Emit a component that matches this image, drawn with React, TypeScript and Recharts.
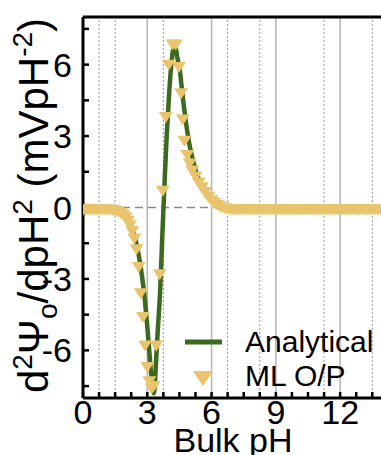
import React from 'react';
import {
  ComposedChart,
  Line,
  Scatter,
  XAxis,
  YAxis,
  ReferenceLine,
  Legend,
} from 'recharts';

const FONT = '"Liberation Sans", Arial, Helvetica, sans-serif';
const GREEN = '#3b6a1f';
const GOLD = '#e9c46c';

// analytical curve (pH, d2psi/dpH2)
const anaPh = [
  0, 0.5, 1.0, 1.4, 1.6, 1.8, 2.0, 2.2, 2.4, 2.5,
  2.6, 2.7, 2.8, 2.9, 3.0, 3.1, 3.2, 3.3, 3.35, 3.4,
  3.5, 3.6, 3.7, 3.8, 3.9, 4.0, 4.1, 4.2, 4.27, 4.35,
  4.4, 4.5, 4.6, 4.7, 4.8, 4.9, 5.0, 5.1, 5.2, 5.3,
  5.4, 5.5, 5.6, 5.7, 5.8, 5.9, 6.0, 6.2, 6.4, 6.6,
  6.8, 7.0, 7.5, 8, 10, 12, 14,
];
const anaVal = [
  0, 0, -0.02, -0.06, -0.12, -0.22, -0.4, -0.7, -1.2, -1.55,
  -2.0, -2.55, -3.2, -4.0, -5.0, -6.1, -7.2, -7.8, -7.5, -6.6,
  -5.0, -3.5, -1.2, 0.9, 2.9, 4.5, 5.8, 6.6, 6.8, 6.6,
  6.3, 5.9, 5.1, 4.3, 3.6, 3.0, 2.5, 2.1, 1.75, 1.45,
  1.2, 0.95, 0.75, 0.6, 0.47, 0.38, 0.3, 0.18, 0.1, 0.06,
  0.03, 0.02, 0.01, 0, 0, 0, 0,
];

// ML output points
const mlPh = [
  0, 0.125, 0.25, 0.375, 0.5, 0.625, 0.75, 0.875, 1, 1.125,
  1.25, 1.375, 1.5, 1.625, 1.75, 1.875, 2.0, 2.1, 2.2, 2.3,
  2.4, 2.5, 2.6, 2.7, 2.8, 2.9, 3.0, 3.1, 3.2, 3.3,
  3.42, 3.58, 3.72, 3.86, 4.0, 4.18, 4.33, 4.48, 4.58, 4.66,
  4.74, 4.86, 4.98, 5.1, 5.25, 5.4, 5.55, 5.7, 5.85, 6.0,
  6.125, 6.25, 6.375, 6.5, 6.625, 6.75, 6.875, 7, 7.125, 7.25,
  7.375, 7.5, 7.625, 7.75, 7.875, 8, 8.125, 8.25, 8.375, 8.5,
  8.625, 8.75, 8.875, 9, 9.125, 9.25, 9.375, 9.5, 9.625, 9.75,
  9.875, 10, 10.125, 10.25, 10.375, 10.5, 10.625, 10.75, 10.875, 11,
  11.125, 11.25, 11.375, 11.5, 11.625, 11.75, 11.875, 12, 12.125, 12.25,
  12.375, 12.5, 12.625, 12.75, 12.875, 13, 13.125, 13.25, 13.375, 13.5,
  13.625, 13.75, 13.875, 14,
];
const mlVal = [
  -0.08, -0.08, -0.08, -0.08, -0.08, -0.08, -0.08, -0.08, -0.08, -0.08,
  -0.09, -0.1, -0.13, -0.17, -0.23, -0.31, -0.42, -0.56, -0.75, -1.0,
  -1.3, -1.75, -2.5, -3.6, -4.6, -5.8, -6.7, -7.3, -7.6, -7.5,
  -5.8, -2.8, 0.7, 3.8, 6.0, 6.85, 6.85, 5.9, 4.8, 3.7,
  2.8, 2.2, 1.85, 1.55, 1.3, 1.05, 0.85, 0.65, 0.45, 0.3,
  0.2, 0.12, 0.05, 0.0, -0.03, -0.06, -0.08, -0.08, -0.08, -0.08,
  -0.08, -0.08, -0.08, -0.08, -0.08, -0.08, -0.08, -0.08, -0.08, -0.08,
  -0.08, -0.08, -0.08, -0.08, -0.08, -0.08, -0.08, -0.08, -0.08, -0.08,
  -0.08, -0.08, -0.08, -0.08, -0.08, -0.08, -0.08, -0.08, -0.08, -0.08,
  -0.08, -0.08, -0.08, -0.08, -0.08, -0.08, -0.08, -0.08, -0.08, -0.08,
  -0.08, -0.08, -0.08, -0.08, -0.08, -0.08, -0.08, -0.08, -0.08, -0.08,
  -0.08, -0.08, -0.08, -0.08,
];

const xTicks = [0, 0.75, 1.5, 2.25, 3, 3.75, 4.5, 5.25, 6, 6.75, 7.5, 8.25, 9, 9.75, 10.5, 11.25, 12, 12.75, 13.5];
const yTicks = [-7.5, -6, -4.5, -3, -1.5, 0, 1.5, 3, 4.5, 6, 7.5];
const gridSolid = [3, 6, 9, 12];
const gridDotted = [0.75, 1.5, 3.75, 6.75, 8.25, 11.25, 13.5];

const majorOnly = (v: number) => (v % 3 === 0 ? String(v) : '');

function DownTriangle(props: any) {
  const { cx, cy } = props;
  if (cx == null || cy == null) return null;
  return (
    <polygon
      points={`${cx - 7},${cy - 5} ${cx + 7},${cy - 5} ${cx},${cy + 6}`}
      fill={GOLD}
    />
  );
}

function YTitle(props: any) {
  const vb = props.viewBox || { x: 0, y: 17, width: 83, height: 381 };
  const cx = vb.x + 48;
  const cy = vb.y + vb.height / 2 - 2;
  return (
    <text
      x={cx}
      y={cy}
      transform={`rotate(-90, ${cx}, ${cy})`}
      textAnchor="middle"
      fontFamily={FONT}
      fontSize={42}
      fill="#000"
    >
      <tspan>d</tspan>
      <tspan fontSize={28} dy={-16}>2</tspan>
      <tspan dy={16}>Ψ</tspan>
      <tspan fontSize={28} dy={9}>o</tspan>
      <tspan dy={-9}>/dpH</tspan>
      <tspan fontSize={28} dy={-16}>2</tspan>
      <tspan dy={16}>{'\u00a0(mVpH'}</tspan>
      <tspan fontSize={28} dy={-16}>-2</tspan>
      <tspan dy={16}>)</tspan>
    </text>
  );
}

function XTitle(props: any) {
  const vb = props.viewBox || { x: 83, y: 398, width: 300, height: 57 };
  return (
    <text
      x={vb.x + vb.width / 2}
      y={vb.y + 54}
      textAnchor="middle"
      fontFamily={FONT}
      fontSize={34}
      fill="#000"
    >
      Bulk pH
    </text>
  );
}

function LegendBox() {
  return (
    <div style={{ fontFamily: FONT, fontSize: 30, color: '#000', lineHeight: '34px', textAlign: 'left' }}>
      <div style={{ display: 'flex', alignItems: 'center', height: 34 }}>
        <svg width={65} height={34}>
          <line x1={5} x2={42} y1={17} y2={17} stroke={GREEN} strokeWidth={5} />
        </svg>
        <span>Analytical</span>
      </div>
      <div style={{ display: 'flex', alignItems: 'center', height: 34 }}>
        <svg width={65} height={34}>
          <polygon points="13,12 33,12 23,27" fill={GOLD} />
        </svg>
        <span>ML O/P</span>
      </div>
    </div>
  );
}

export default function App() {
  const lineData = anaPh.map((ph, i) => ({ ph, v: anaVal[i] }));
  const mlData = mlPh.map((ph, i) => ({ ph, v: mlVal[i] }));
  const axisLine = { stroke: '#000', strokeWidth: 3 };
  const tickLine = { stroke: '#000', strokeWidth: 2.5 };

  return (
    <div
      style={{
        position: 'absolute',
        left: 0,
        top: 0,
        width: 381,
        height: 455,
        overflow: 'hidden',
        background: '#fff',
      }}
    >
      <ComposedChart width={386} height={455} margin={{ top: 16, right: 2, bottom: 0, left: 0 }}>
        <XAxis
          dataKey="ph"
          type="number"
          domain={[0, 14]}
          allowDataOverflow
          ticks={xTicks}
          interval={0}
          tickFormatter={majorOnly}
          tickSize={-6}
          tickMargin={8}
          height={57}
          axisLine={axisLine}
          tickLine={tickLine}
          tick={{ fill: '#000', fontSize: 34, fontFamily: FONT }}
          label={<XTitle />}
        />
        <XAxis
          xAxisId="top"
          orientation="top"
          dataKey="ph"
          type="number"
          domain={[0, 14]}
          allowDataOverflow
          ticks={xTicks}
          interval={0}
          tickSize={-6}
          height={1}
          axisLine={axisLine}
          tickLine={tickLine}
          tick={false}
        />
        <YAxis
          type="number"
          domain={[-8, 8]}
          allowDataOverflow
          ticks={yTicks}
          interval={0}
          tickFormatter={majorOnly}
          tickSize={-6}
          tickMargin={17}
          width={83}
          axisLine={axisLine}
          tickLine={tickLine}
          tick={{ fill: '#000', fontSize: 34, fontFamily: FONT }}
          label={<YTitle />}
        />
        <YAxis
          yAxisId="right"
          orientation="right"
          type="number"
          domain={[-8, 8]}
          allowDataOverflow
          ticks={yTicks}
          interval={0}
          tickSize={-6}
          width={1}
          axisLine={axisLine}
          tickLine={tickLine}
          tick={false}
        />
        {gridSolid.map((x) => (
          <ReferenceLine key={`s${x}`} x={x} stroke="#b4b4b4" strokeWidth={1.5} />
        ))}
        {gridDotted.map((x) => (
          <ReferenceLine key={`d${x}`} x={x} stroke="#9a9a9a" strokeWidth={1} strokeDasharray="2 2" />
        ))}
        <ReferenceLine y={0} stroke="#8a8a8a" strokeWidth={1.5} strokeDasharray="8 5" />
        <Scatter
          data={mlData}
          dataKey="v"
          name="ML O/P"
          shape={<DownTriangle />}
          isAnimationActive={false}
        />
        <Line
          data={lineData}
          dataKey="v"
          name="Analytical"
          type="monotone"
          stroke={GREEN}
          strokeWidth={4.5}
          dot={false}
          activeDot={false}
          isAnimationActive={false}
        />
        <Legend
          layout="vertical"
          align="center"
          verticalAlign="middle"
          content={<LegendBox />}
          wrapperStyle={{ position: 'absolute', left: 180, top: 325, width: 200, bottom: 'auto', right: 'auto' }}
        />
      </ComposedChart>
    </div>
  );
}
